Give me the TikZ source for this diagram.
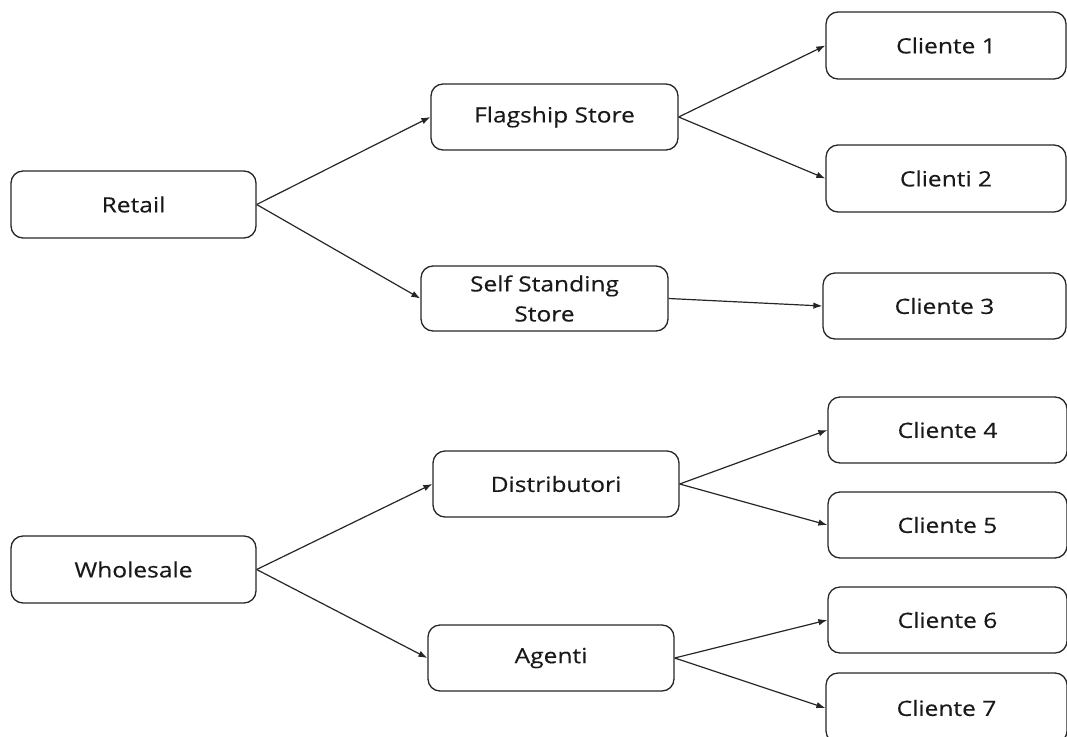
\documentclass[tikz,border=0pt]{standalone}
\usepackage{fontspec}
\setmainfont{Open Sans}
\newfontfamily\boxfont[FakeStretch=1.17,FakeBold=0.35]{Open Sans}
\usetikzlibrary{arrows.meta}
\begin{document}
\begin{tikzpicture}[x=1pt,y=-1pt,
  box/.style={draw=black!85, line width=1.3pt, rounded corners=12pt,
    minimum width=#1, minimum height=66pt, inner sep=0pt, align=center,
    font=\boxfont\fontsize{21}{30}\selectfont, text=black!90},
  box/.default=246pt,
  link/.style={draw=black!85, line width=1.2pt, -{Latex[length=9pt,width=6.5pt]}}]
\useasboundingbox (0,0) rectangle (1067,736);
% channels
\node[box=245pt, minimum height=67pt] (retail) at (133.5,204.5) {Retail};
\node[box=245pt, minimum height=67pt] (whole) at (133.5,569.5) {Wholesale};
% points of sale
\node[box=247pt] (flag) at (554.5,117) {Flagship Store};
\node[box=247pt, minimum height=65pt] (self) at (544.5,298.5) {Self Standing\\Store};
\node[box] (dist) at (556,484) {Distributori};
\node[box] (agenti) at (551,658) {Agenti};
% customers
\node[box=240pt, minimum height=67pt] (c1) at (946,45.5) {Cliente 1};
\node[box=240pt, minimum height=67pt] (c2) at (946,178.5) {Clienti 2};
\node[box=243pt] (c3) at (944.5,306) {Cliente 3};
\node[box=239pt] (c4) at (947.5,430) {Cliente 4};
\node[box=239pt] (c5) at (947.5,525) {Cliente 5};
\node[box=239pt] (c6) at (947.5,620) {Cliente 6};
\node[box=241pt, minimum height=70pt] (c7) at (946.5,708) {Cliente 7};
% connections
\draw[link] (retail.east) -- (flag.west);
\draw[link] (retail.east) -- (self.west);
\draw[link] (flag.east) -- (c1.west);
\draw[link] (flag.east) -- (c2.west);
\draw[link] (self.east) -- (c3.west);
\draw[link] (whole.east) -- (dist.west);
\draw[link] (whole.east) -- (agenti.west);
\draw[link] (dist.east) -- (c4.west);
\draw[link] (dist.east) -- (c5.west);
\draw[link] (agenti.east) -- (c6.west);
\draw[link] (agenti.east) -- (c7.west);
\end{tikzpicture}
\end{document}
